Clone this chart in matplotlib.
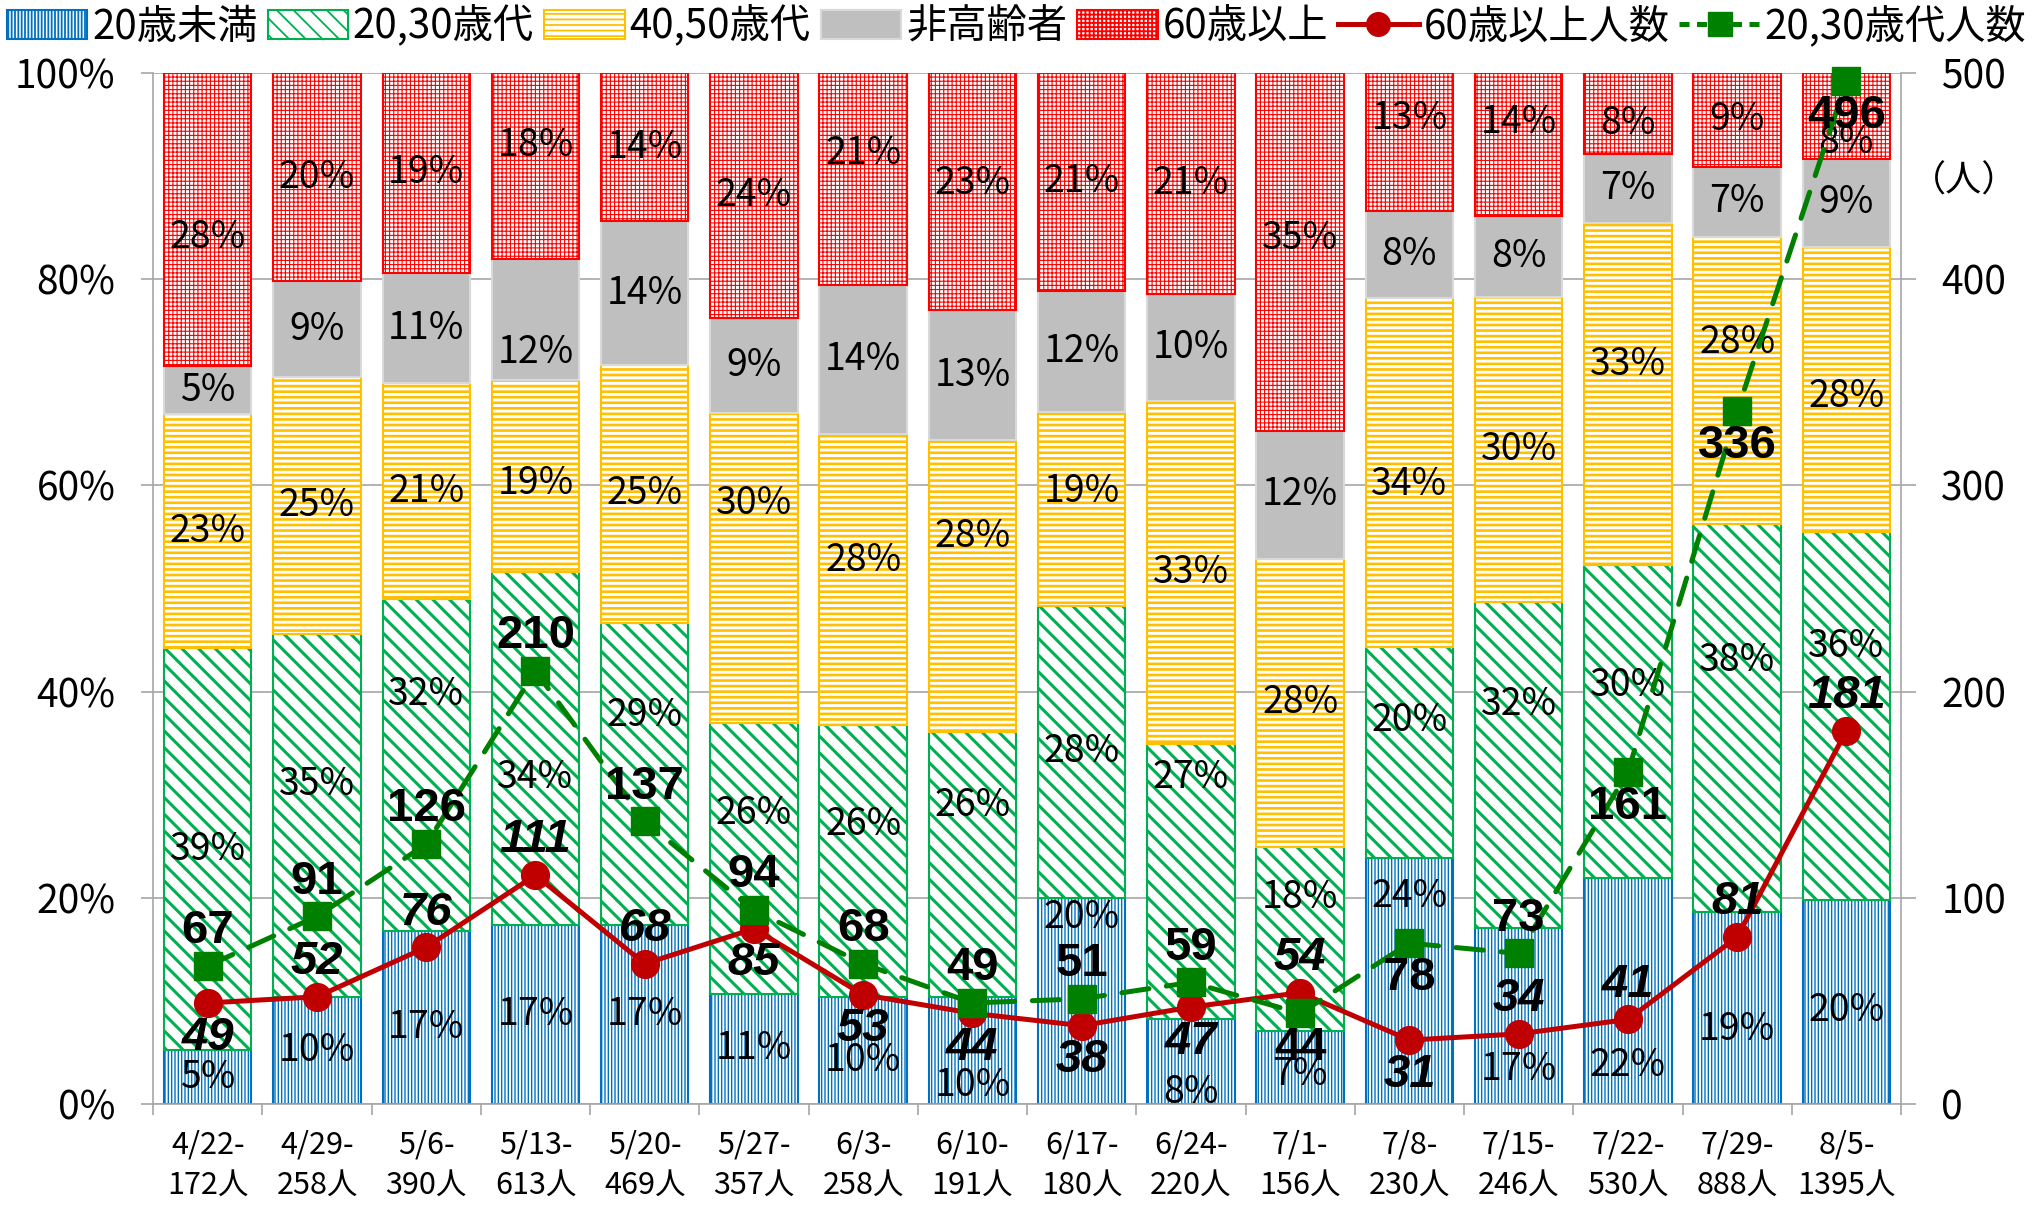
import numpy as np
import matplotlib.pyplot as plt
from matplotlib.patches import Patch
from matplotlib.lines import Line2D
from matplotlib.ticker import FuncFormatter

plt.rcParams['font.family'] = ['Noto Sans CJK JP', 'DejaVu Sans']
plt.rcParams['hatch.linewidth'] = 1.3

weeks = ['4/22-', '4/29-', '5/6-', '5/13-', '5/20-', '5/27-', '6/3-', '6/10-',
         '6/17-', '6/24-', '7/1-', '7/8-', '7/15-', '7/22-', '7/29-', '8/5-']
totals = [172, 258, 390, 613, 469, 357, 258, 191, 180, 220, 156, 230, 246, 530, 888, 1395]

# shares in percent (bottom to top)
under20 = [5.2, 10.4, 16.8, 17.4, 17.4, 10.7, 10.4, 10.4, 20.0, 8.2, 7.1, 23.9, 17.1, 21.9, 18.6, 19.8]
age2030 = [39.0, 35.2, 32.2, 34.2, 29.3, 26.3, 26.4, 25.7, 28.3, 26.7, 17.8, 20.4, 31.6, 30.4, 37.7, 35.7]
age4050 = [22.7, 24.9, 20.9, 18.6, 25.0, 30.0, 28.2, 28.3, 18.8, 33.3, 28.0, 33.9, 29.6, 33.1, 27.8, 27.6]
non_elderly = [4.7, 9.3, 10.7, 11.8, 13.9, 9.2, 14.4, 12.6, 11.8, 10.4, 12.4, 8.4, 7.8, 6.7, 6.8, 8.6]
over60 = [28.4, 20.2, 19.4, 18.0, 14.4, 23.8, 20.6, 23.0, 21.1, 21.4, 34.7, 13.4, 13.9, 7.9, 9.1, 8.3]

# weekly head counts (right axis)
over60_count = [49, 52, 76, 111, 68, 85, 53, 44, 38, 47, 54, 31, 34, 41, 81, 181]
age2030_count = [67, 91, 126, 210, 137, 94, 68, 49, 51, 59, 44, 78, 73, 161, 336, 496]

# label placement tweaks (percentage points) and line-label sides (+1 above, -1 below)
shift_under20 = [0, 0, -1, 0, 0, 0, -1, -3.4, 8.1, -3, -0.7, 8.2, -5.2, -7.2, -2.1, -0.8]
shift_2030 = [0, 3, 6.8, -2.8, 5.6, 4.3, 3.5, 5.7, 0, 10.1, 4, 3.1, 5.8, 3.5, 5.6, 6.7]
shift_4050 = [0, 0, 0, -0.7, 0, 6.2, 1.8, 4.8, 1.7, 0, 0, -1.2, 0, 2.9, 3.7, -0.7]
shift_non = [0, 0, 0, -3.2, 0, 0, 0, 0, 0, 0, 0, 0, 0, 0, 0, 0]
shift_over60 = [-1.8, 0, 0, 2, 0, 0, 2.5, 0.8, 0, 0, 1.3, 2.3, 2.1, -1, 0, -2.6]
side_over60 = [-1, 1, 1, 1, 1, -1, -1, -1, -1, -1, 1, -1, 1, 1, 1, 1]
side_2030 = [1, 1, 1, 1, 1, 1, 1, 1, 1, 1, -1, -1, 1, -1, -1, -1]

segments = [
    ('20歳未満', under20, shift_under20, 1.0,
     dict(facecolor='white', edgecolor='#0070C0', hatch='|||||')),
    ('20,30歳代', age2030, shift_2030, 2.2,
     dict(facecolor='white', edgecolor='#00B050', hatch='\\\\')),
    ('40,50歳代', age4050, shift_4050, 1.9,
     dict(facecolor='white', edgecolor='#FFC000', hatch='---')),
    ('非高齢者', non_elderly, shift_non, 1.0,
     dict(facecolor='#BFBFBF', edgecolor='#D9D9D9', hatch=None)),
    ('60歳以上', over60, shift_over60, 0.8,
     dict(facecolor='white', edgecolor='#FF0000', hatch='++++')),
]

fig = plt.figure(figsize=(20.33, 12.1), dpi=100)
ax = fig.add_axes([0.0753, 0.0876, 0.8598, 0.8521])
x = np.arange(len(weeks))

bottom = np.zeros(len(weeks))
handles = []
for name, vals, shifts, hlw, style in segments:
    v = np.array(vals) / 100
    with plt.rc_context({'hatch.linewidth': hlw}):
        ax.bar(x, v, 0.8, bottom=bottom, linewidth=1.5, zorder=2, **style)
        handles.append(Patch(linewidth=1.5, label=name, **style))
    for i in range(len(x)):
        ax.text(x[i], bottom[i] + v[i] / 2 + shifts[i] / 100, f'{vals[i]:.0f}%',
                ha='center', va='center', fontsize=27, zorder=3)
    bottom += v

ax.set_xlim(-0.5, len(weeks) - 0.5)
ax.set_ylim(0, 1)
ax.set_yticks(np.arange(0, 1.01, 0.2))
ax.yaxis.set_major_formatter(FuncFormatter(lambda v, p: f'{v * 100:.0f}%'))
ax.grid(axis='y', color='#A6A6A6', linewidth=1.2)
ax.set_axisbelow(True)
ax.set_xticks(x)
ax.set_xticklabels([f'{w}\n{t}人' for w, t in zip(weeks, totals)], fontsize=22, linespacing=1.4)
ax.set_xticks(np.arange(-0.5, len(weeks)), minor=True)
ax.tick_params(axis='x', which='major', length=0, pad=18)
ax.tick_params(axis='x', which='minor', length=8, color='#A6A6A6', width=1.2)
ax.tick_params(axis='y', length=9, color='#A6A6A6', width=1.2, labelsize=28, pad=18)
for s in ['top', 'right']:
    ax.spines[s].set_visible(False)
for s in ['left', 'bottom']:
    ax.spines[s].set_color('#A6A6A6')
    ax.spines[s].set_linewidth(1.2)

ax2 = ax.twinx()
ax2.set_ylim(0, 500)
ax2.set_yticks(range(0, 501, 100))
ax2.tick_params(axis='y', length=11, color='#A6A6A6', width=1.2, labelsize=28, pad=18)
for s in ['top', 'left', 'bottom']:
    ax2.spines[s].set_visible(False)
ax2.spines['right'].set_color('#A6A6A6')
ax2.spines['right'].set_linewidth(1.2)

ax2.plot(x, over60_count, color='#C00000', linewidth=3.6, marker='o', markersize=20,
         zorder=4, clip_on=False)
ax2.plot(x, age2030_count, color='#008000', linewidth=3.6, linestyle=(0, (5.5, 3.5)),
         dash_capstyle='round', marker='s', markersize=20, zorder=5, clip_on=False)

for i in range(len(x)):
    ax2.annotate(str(over60_count[i]), (x[i], over60_count[i]), xytext=(0, 25 * side_over60[i]),
                 textcoords='offset points', ha='center', va='center', fontsize=34,
                 family='Liberation Sans', fontweight='bold', fontstyle='italic', zorder=6)
    ax2.annotate(str(age2030_count[i]), (x[i], age2030_count[i]), xytext=(0, 25 * side_2030[i]),
                 textcoords='offset points', ha='center', va='center', fontsize=34,
                 family='Liberation Sans', fontweight='bold', zorder=6)

fig.text(0.966, 0.850, '（人）', ha='center', va='center', fontsize=26)

handles.append(Line2D([], [], color='#C00000', linewidth=3.6, marker='o', markersize=17,
                      label='60歳以上人数'))
handles.append(Line2D([], [], color='#008000', linewidth=3.6, linestyle=(0, (2, 1.5)),
                      marker='s', markersize=17, label='20,30歳代人数'))
fig.legend(handles=handles, loc='center', bbox_to_anchor=(0.5, 0.978), ncol=7, fontsize=29,
           frameon=False, handlelength=2.0, handleheight=0.75, handletextpad=0.12,
           columnspacing=0.25, borderpad=0, borderaxespad=0)

fig.savefig('out.png', dpi=100)
